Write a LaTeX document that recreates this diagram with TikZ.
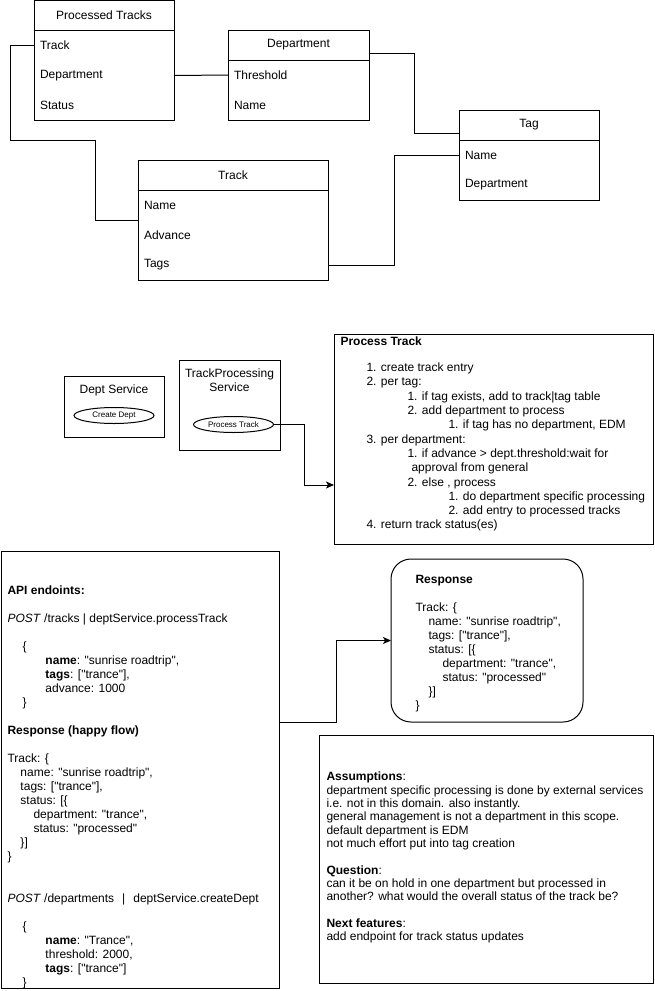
\documentclass[tikz,border=0pt]{standalone}
\usepackage{fontspec}
\setmainfont{Liberation Sans}[Ligatures=TeXOff]
\usetikzlibrary{positioning,shapes.geometric,arrows.meta}
\begin{document}
\begin{tikzpicture}[x=1pt,y=-1pt,>={Stealth[length=8pt,width=7pt,inset=2pt]},line width=1pt,
    font=\fontsize{12}{14}\selectfont]
  \tikzstyle{ehead}=[draw, minimum height=30pt, inner sep=0pt, outer sep=0pt]
  \tikzstyle{erow}=[minimum height=30pt, inner xsep=6pt, inner ysep=0pt, outer sep=0pt, align=left]
  \tikzstyle{svc}=[draw, inner sep=0pt, outer sep=0pt]
  \tikzstyle{op}=[draw, ellipse, minimum width=80pt, minimum height=16pt, inner sep=0pt,
    outer sep=0pt, font=\fontsize{8}{9}\selectfont]
  \tikzstyle{note}=[anchor=north west, align=left, inner sep=0pt]

  \useasboundingbox (0,0) rectangle (655,991);

  % entities
  \node[ehead, minimum width=140pt] (pt) at (104,15.5) {Processed Tracks};
  \node[erow, text width=128pt, below=0pt of pt] (ptTrack) {Track};
  \node[erow, text width=128pt, below=0pt of ptTrack] (ptDept) {Department};
  \node[erow, text width=128pt, below=0pt of ptDept] (ptStatus) {Status};
  \draw (pt.south west) rectangle (ptStatus.south east);

  \node[ehead, minimum width=141pt] (dept) at (298.5,45) {Department};
  \node[erow, text width=129pt, below=0pt of dept] (deptThreshold) {Threshold};
  \node[erow, text width=129pt, below=0pt of deptThreshold] (deptName) {Name};
  \draw (dept.south west) rectangle (deptName.south east);

  \node[ehead, minimum width=140pt] (tag) at (529,125) {Tag};
  \node[erow, text width=128pt, below=0pt of tag] (tagName) {Name};
  \node[erow, text width=128pt, below=0pt of tagName] (tagDept) {Department};
  \draw (tag.south west) rectangle (tagDept.south east);

  \node[ehead, minimum width=190pt] (track) at (233,175) {Track};
  \node[erow, text width=178pt, below=0pt of track] (trackName) {Name};
  \node[erow, text width=178pt, below=0pt of trackName] (trackAdvance) {Advance};
  \node[erow, text width=178pt, below=0pt of trackAdvance] (trackTags) {Tags};
  \draw (track.south west) rectangle (trackTags.south east);

  \draw (ptTrack.west) -- ++(-24,0) |- (95,140) |- (trackName.south west);
  \draw (ptDept.east) -- (deptThreshold.west);
  \draw ([yshift=-8pt]dept.east) -- ++(45,0) |- ([yshift=-8pt]tag.west);
  \draw (trackTags.east) -- ++(66,0) |- (tagName.west);

  % services
  \node[svc, minimum width=100pt, minimum height=61pt] (deptSvc) at (114,406.5) {};
  \node (deptSvcTitle) at (114,390) {Dept Service};
  \node[op] (createDept) at (114,415.5) {Create Dept};

  \node[svc, minimum width=101pt, minimum height=90pt] (trackSvc) at (229.5,405) {};
  \node[align=center, inner sep=0pt] (trackSvcTitle) at (229.5,380) {TrackProcessing\\Service};
  \node[op] (processTrack) at (233.5,424.5) {Process Track};

  \node[svc, minimum width=319pt, minimum height=210pt] (procBox) at (493.5,439) {};
  \node[note, font=\fontsize{12}{14.3}\selectfont] (procSteps) at (340,336.7) {%
    \textbf{Process Track}\\[11.4pt]
    \hspace*{26pt}1. create track entry\\
    \hspace*{26pt}2. per tag:\\
    \hspace*{67pt}1. if tag exists, add to track|tag table\\
    \hspace*{67pt}2. add department to process\\
    \hspace*{108pt}1. if tag has no department, EDM\\
    \hspace*{26pt}3. per department:\\
    \hspace*{67pt}1. if advance > dept.threshold:wait for\\
    \hspace*{71pt}approval from general\\
    \hspace*{67pt}2. else , process\\
    \hspace*{108pt}1. do department specific processing\\
    \hspace*{108pt}2. add entry to processed tracks\\
    \hspace*{26pt}4. return track status(es)};

  \draw[->] (processTrack.east) -- ++(31,0) |- ([yshift=-46pt]procBox.west);

  % api
  \node[svc, minimum width=278pt, minimum height=437pt] (api) at (140,769.5) {};
  \node[note] (apiText) at (7,585.7) {%
    \textbf{API endoints:}\\[14pt]
    \textit{POST} /tracks | deptService.processTrack\\[14pt]
    \hspace*{15pt}\{\\
    \hspace*{38pt}\textbf{name}: "sunrise roadtrip",\\
    \hspace*{38pt}\textbf{tags}: ["trance"],\\
    \hspace*{38pt}advance: 1000\\
    \hspace*{15pt}\}\\[14pt]
    \textbf{Response (happy flow)}\\[14pt]
    Track: \{\\
    \hspace*{13pt}name: "sunrise roadtrip",\\
    \hspace*{13pt}tags: ["trance"],\\
    \hspace*{13pt}status: [\{\\
    \hspace*{26pt}department: "trance",\\
    \hspace*{26pt}status: "processed"\\
    \hspace*{13pt}\}]\\
    \}\\[28pt]
    \textit{POST} /departments\hspace{8pt}|\hspace{8pt}deptService.createDept\\[14pt]
    \hspace*{15pt}\{\\
    \hspace*{38pt}\textbf{name}: "Trance",\\
    \hspace*{38pt}threshold: 2000,\\
    \hspace*{38pt}\textbf{tags}: ["trance"]\\
    \hspace*{15pt}\}};

  \node[svc, rounded corners=20pt, minimum width=192pt, minimum height=163pt] (resp) at (487,640.5) {};
  \node[note] (respText) at (415,574.7) {%
    \textbf{Response}\\[14pt]
    Track: \{\\
    \hspace*{13pt}name: "sunrise roadtrip",\\
    \hspace*{13pt}tags: ["trance"],\\
    \hspace*{13pt}status: [\{\\
    \hspace*{27pt}department: "trance",\\
    \hspace*{27pt}status: "processed"\\
    \hspace*{13pt}\}]\\
    \}};

  \draw[->] ([yshift=47.5pt]api.east) -- ++(57,0) |- (resp.west);

  % notes
  \node[svc, minimum width=334pt, minimum height=248pt] (notes) at (486,859) {};
  \node[note, font=\fontsize{12}{13.3}\selectfont] (notesText) at (326,771.7) {%
    \textbf{Assumptions}:\\
    department specific processing is done by external services\\
    i.e. not in this domain. also instantly.\\
    general management is not a department in this scope.\\
    default department is EDM\\
    not much effort put into tag creation\\[13.3pt]
    \textbf{Question}:\\
    can it be on hold in one department but processed in\\
    another? what would the overall status of the track be?\\[13.3pt]
    \textbf{Next features}:\\
    add endpoint for track status updates};
\end{tikzpicture}
\end{document}
